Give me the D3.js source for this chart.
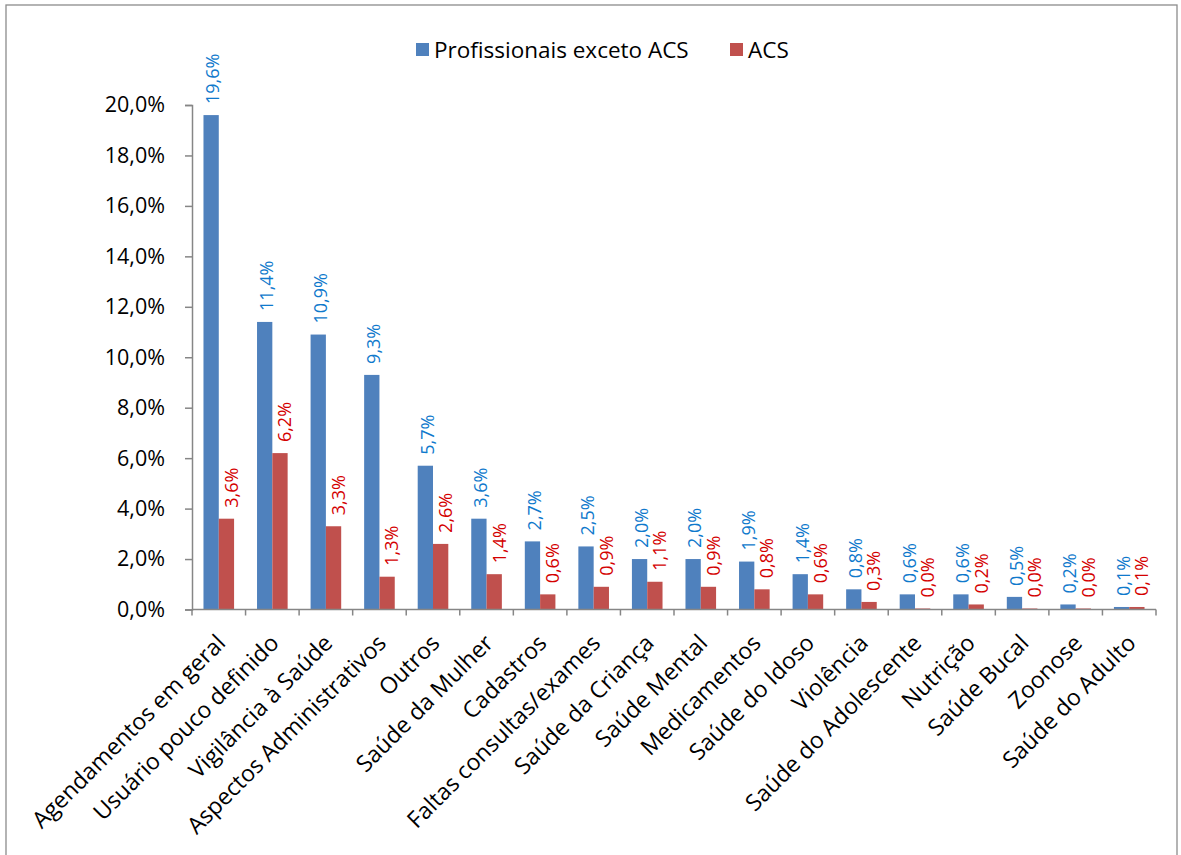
<!DOCTYPE html>
<html>
<head>
<meta charset="utf-8">
<script src="https://cdn.jsdelivr.net/npm/d3@7"></script>
<style>
  body { margin: 0; background: #fff; }
  text { font-family: "Open Sans", sans-serif; }
</style>
</head>
<body>
<svg width="1181" height="855"></svg>
<script>
const width = 1181
const height = 855

const categories = ["Agendamentos em geral", "Usuário pouco definido", "Vigilância à Saúde",
  "Aspectos Administrativos", "Outros", "Saúde da Mulher", "Cadastros", "Faltas consultas/exames",
  "Saúde da Criança", "Saúde Mental", "Medicamentos", "Saúde do Idoso", "Violência",
  "Saúde do Adolescente", "Nutrição", "Saúde Bucal", "Zoonose", "Saúde do Adulto"]

const profissionais = [19.6, 11.4, 10.9, 9.3, 5.7, 3.6, 2.7, 2.5, 2.0, 2.0, 1.9, 1.4, 0.8, 0.6, 0.6, 0.5, 0.2, 0.1]
const acs = [3.6, 6.2, 3.3, 1.3, 2.6, 1.4, 0.6, 0.9, 1.1, 0.9, 0.8, 0.6, 0.3, 0.04, 0.2, 0.04, 0.04, 0.1]

const seriesNames = ["Profissionais exceto ACS", "ACS"]
const yTicks = [0, 2, 4, 6, 8, 10, 12, 14, 16, 18, 20]

const barColors = ["#4f81bd", "#c0504d"]
const labelColors = ["#0f79cc", "#d40000"]
const axisColor = "#868686"

const margin = {left: 192, right: 25, top: 105, bottom: 245.5}

const svg = d3.select("svg")

// outer frame of the chart
svg.append("rect")
  .attr("x", 6).attr("y", 5)
  .attr("width", width - 10).attr("height", height + 10)
  .attr("fill", "none")
  .attr("stroke", "#8c8c8c")
  .attr("stroke-width", 1.3)

const x = d3.scaleBand()
  .domain(categories)
  .range([margin.left, width - margin.right])
  .padding(0)

const y = d3.scaleLinear()
  .domain([0, 20])
  .range([height - margin.bottom, margin.top])

const barW = x.bandwidth() / 3.5 // excel gap width 150%
const fmt = v => d3.format(".1f")(v).replace(".", ",") + "%"

// y axis
const yAxis = svg.append("g")
  .attr("transform", `translate(${margin.left},0)`)
  .call(d3.axisLeft(y).tickValues(yTicks).tickSize(7).tickPadding(20).tickFormat(fmt))
yAxis.select(".domain").attr("stroke", axisColor).attr("stroke-width", 1.5)
yAxis.selectAll(".tick line").attr("stroke", axisColor).attr("stroke-width", 1.5)
yAxis.selectAll("text").attr("font-size", 21.5).attr("fill", "#000").attr("font-family", "Open Sans")

// bars
const series = [profissionais, acs]
series.forEach((vals, s) => {
  svg.append("g")
    .selectAll("rect")
    .data(vals)
    .join("rect")
    .attr("x", (d, i) => x(categories[i]) + x.bandwidth() / 2 - barW + s * barW)
    .attr("y", d => y(d))
    .attr("width", barW)
    .attr("height", d => y(0) - y(d))
    .attr("fill", barColors[s])

  // rotated data labels
  svg.append("g")
    .selectAll("text")
    .data(vals)
    .join("text")
    .attr("transform", (d, i) => {
      const cx = x(categories[i]) + x.bandwidth() / 2 - barW / 2 + s * barW + (s ? 5 : 2)
      return `translate(${cx},${y(d) - 11}) rotate(-90)`
    })
    .attr("dy", "0.35em")
    .attr("font-size", 18)
    .attr("fill", labelColors[s])
    .text(d => fmt(d))
})

// x axis with ticks between categories
const x0 = y(0)
svg.append("line")
  .attr("x1", margin.left).attr("x2", width - margin.right)
  .attr("y1", x0).attr("y2", x0)
  .attr("stroke", axisColor).attr("stroke-width", 1.5)

svg.append("g")
  .selectAll("line")
  .data(d3.range(categories.length + 1))
  .join("line")
  .attr("x1", i => margin.left + i * x.step())
  .attr("x2", i => margin.left + i * x.step())
  .attr("y1", x0).attr("y2", x0 + 6)
  .attr("stroke", axisColor).attr("stroke-width", 1.5)

svg.append("g")
  .selectAll("text")
  .data(categories)
  .join("text")
  .attr("transform", d => `translate(${x(d) + x.bandwidth() / 2 + 8},${x0 + 35}) rotate(-45)`)
  .attr("text-anchor", "end")
  .attr("font-size", 23)
  .attr("fill", "#000")
  .text(d => d)

// legend
const legend = svg.append("g")
const legendX = [416, 730]
seriesNames.forEach((name, s) => {
  legend.append("rect")
    .attr("x", legendX[s]).attr("y", 43)
    .attr("width", 13).attr("height", 13)
    .attr("fill", barColors[s])
  legend.append("text")
    .attr("x", legendX[s] + 18).attr("y", 58)
    .attr("font-size", 22.5)
    .attr("fill", "#000")
    .text(name)
})
</script>
</body>
</html>
